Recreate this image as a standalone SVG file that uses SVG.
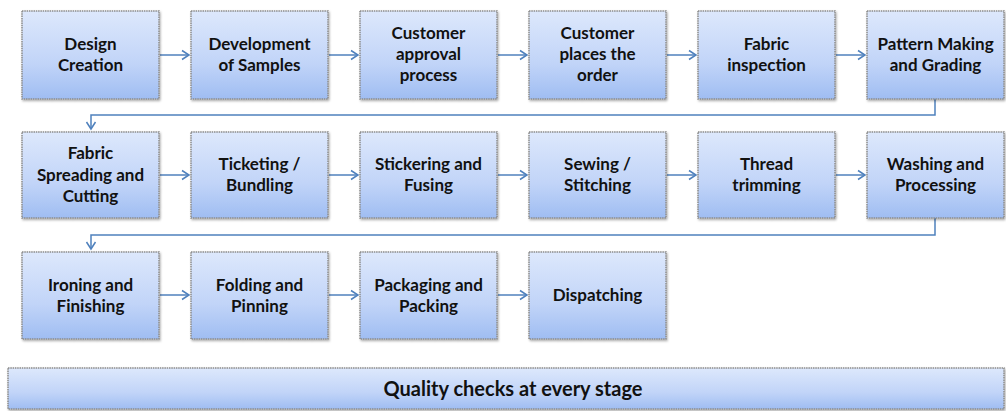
<svg xmlns="http://www.w3.org/2000/svg" width="1006" height="411" viewBox="0 0 1006 411">
<style>
.box{fill:url(#g);stroke:#8c8c8c;stroke-width:1.5;stroke-dasharray:1.5 0.8;filter:url(#sh)}
.t{font-family:Lato,"Liberation Sans",sans-serif;font-weight:bold;font-size:17px;fill:#111;text-anchor:middle}
.q{font-size:20px}
.c{fill:none;stroke:#4f81bd;stroke-width:1.5}
</style>
<defs>
<linearGradient id="g" x1="0" y1="0" x2="0" y2="1">
<stop offset="0" stop-color="#dde8fc"/>
<stop offset="0.6" stop-color="#c1d4f8"/>
<stop offset="1" stop-color="#9fbdf2"/>
</linearGradient>
<filter id="sh" x="-5%" y="-5%" width="110%" height="115%">
<feDropShadow dx="1" dy="1.5" stdDeviation="0.8" flood-color="#000" flood-opacity="0.35"/>
</filter>
<marker id="a" markerWidth="10" markerHeight="12" refX="8" refY="6" orient="auto" markerUnits="userSpaceOnUse">
<path d="M1,1.5 L8,6 L1,10.5" fill="none" stroke="#4f81bd" stroke-width="1.5"/>
</marker>
</defs>
<g id="connectors">
<path class="c" d="M160,55 H189" marker-end="url(#a)"/>
<path class="c" d="M329,55 H358" marker-end="url(#a)"/>
<path class="c" d="M498,55 H527" marker-end="url(#a)"/>
<path class="c" d="M667,55 H696" marker-end="url(#a)"/>
<path class="c" d="M836,55 H865" marker-end="url(#a)"/>
<path class="c" d="M935,99 V115 H91 V129" marker-end="url(#a)"/>
<path class="c" d="M160,175 H189" marker-end="url(#a)"/>
<path class="c" d="M329,175 H358" marker-end="url(#a)"/>
<path class="c" d="M498,175 H527" marker-end="url(#a)"/>
<path class="c" d="M667,175 H696" marker-end="url(#a)"/>
<path class="c" d="M836,175 H865" marker-end="url(#a)"/>
<path class="c" d="M935,218 V235 H91 V249" marker-end="url(#a)"/>
<path class="c" d="M160,295 H189" marker-end="url(#a)"/>
<path class="c" d="M329,295 H358" marker-end="url(#a)"/>
<path class="c" d="M498,295 H527" marker-end="url(#a)"/>
</g>
<g id="n1"><rect class="box" x="22" y="11" width="137" height="88"/><text class="t" x="90.5" y="50">Design</text><text class="t" x="90.5" y="71">Creation</text></g>
<g id="n2"><rect class="box" x="191" y="11" width="137" height="88"/><text class="t" x="259.5" y="50">Development</text><text class="t" x="259.5" y="71">of Samples</text></g>
<g id="n3"><rect class="box" x="360" y="11" width="137" height="88"/><text class="t" x="428.5" y="39">Customer</text><text class="t" x="428.5" y="60">approval</text><text class="t" x="428.5" y="81">process</text></g>
<g id="n4"><rect class="box" x="529" y="11" width="137" height="88"/><text class="t" x="597.5" y="39">Customer</text><text class="t" x="597.5" y="60">places the</text><text class="t" x="597.5" y="81">order</text></g>
<g id="n5"><rect class="box" x="698" y="11" width="137" height="88"/><text class="t" x="766.5" y="50">Fabric</text><text class="t" x="766.5" y="71">inspection</text></g>
<g id="n6"><rect class="box" x="867" y="11" width="137" height="88"/><text class="t" x="935.5" y="50">Pattern Making</text><text class="t" x="935.5" y="71">and Grading</text></g>
<g id="n7"><rect class="box" x="22" y="132" width="137" height="86"/><text class="t" x="90.5" y="159">Fabric</text><text class="t" x="90.5" y="181">Spreading and</text><text class="t" x="90.5" y="202">Cutting</text></g>
<g id="n8"><rect class="box" x="191" y="132" width="137" height="86"/><text class="t" x="259.5" y="170">Ticketing /</text><text class="t" x="259.5" y="191">Bundling</text></g>
<g id="n9"><rect class="box" x="360" y="132" width="137" height="86"/><text class="t" x="428.5" y="170">Stickering and</text><text class="t" x="428.5" y="191">Fusing</text></g>
<g id="n10"><rect class="box" x="529" y="132" width="137" height="86"/><text class="t" x="597.5" y="170">Sewing /</text><text class="t" x="597.5" y="191">Stitching</text></g>
<g id="n11"><rect class="box" x="698" y="132" width="137" height="86"/><text class="t" x="766.5" y="170">Thread</text><text class="t" x="766.5" y="191">trimming</text></g>
<g id="n12"><rect class="box" x="867" y="132" width="137" height="86"/><text class="t" x="935.5" y="170">Washing and</text><text class="t" x="935.5" y="191">Processing</text></g>
<g id="n13"><rect class="box" x="22" y="252" width="137" height="87"/><text class="t" x="90.5" y="291">Ironing and</text><text class="t" x="90.5" y="312">Finishing</text></g>
<g id="n14"><rect class="box" x="191" y="252" width="137" height="87"/><text class="t" x="259.5" y="291">Folding and</text><text class="t" x="259.5" y="312">Pinning</text></g>
<g id="n15"><rect class="box" x="360" y="252" width="137" height="87"/><text class="t" x="428.5" y="291">Packaging and</text><text class="t" x="428.5" y="312">Packing</text></g>
<g id="n16"><rect class="box" x="529" y="252" width="137" height="87"/><text class="t" x="597.5" y="301">Dispatching</text></g>
<g id="quality"><rect class="box" x="8" y="368" width="996" height="41"/><text class="t q" x="513" y="396">Quality checks at every stage</text></g>
</svg>
